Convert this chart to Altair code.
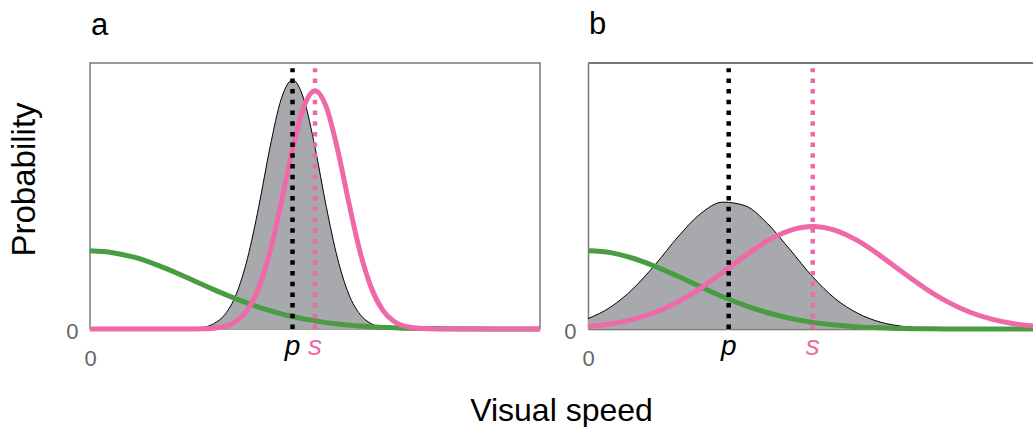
import altair as alt
import pandas as pd

# ---------------- Panel a ----------------
x_a = [0, 0.5, 1, 1.5, 2, 2.5, 2.75, 3, 3.25, 3.5, 3.75, 4, 4.25, 4.5, 4.75,
       5, 5.25, 5.5, 5.75, 6, 6.25, 6.5, 6.75, 7, 7.5, 8, 9, 10]
likelihood_a = [0, 0, 0, 0, 0, 0.006, 0.020, 0.055, 0.131, 0.266, 0.460, 0.683, 0.865, 0.936, 0.865,
                0.683, 0.460, 0.266, 0.131, 0.055, 0.020, 0.006, 0.002, 0, 0, 0, 0, 0]
prior_a = [0.294, 0.287, 0.269, 0.240, 0.205, 0.167, 0.148, 0.130, 0.113, 0.097, 0.082, 0.069, 0.057, 0.047, 0.038,
           0.031, 0.024, 0.019, 0.015, 0.011, 0.0085, 0.006, 0.0047, 0.003, 0.002, 0.001, 0, 0]
percept_a = [0, 0, 0, 0, 0, 0.001, 0.003, 0.010, 0.029, 0.072, 0.155, 0.291, 0.476, 0.676, 0.835,
             0.896, 0.835, 0.676, 0.476, 0.291, 0.155, 0.072, 0.029, 0.010, 0.001, 0, 0, 0]
marks_a = [4.5, 5.0]           # p, s

# ---------------- Panel b ----------------
x_b = [0, 0.5, 1, 1.5, 2, 2.5, 3, 3.5, 4, 4.5, 5, 5.5, 6, 6.5, 7, 7.5, 8, 8.5, 9, 9.5, 9.9]
likelihood_b = [0.039, 0.082, 0.151, 0.243, 0.346, 0.433, 0.477, 0.463, 0.395, 0.297, 0.196,
                0.114, 0.059, 0.026, 0.010, 0.004, 0.001, 0, 0, 0, 0]
prior_b = [0.294, 0.287, 0.266, 0.235, 0.198, 0.159, 0.121, 0.088, 0.061, 0.040, 0.025,
           0.015, 0.008, 0.005, 0.002, 0.001, 0, 0, 0, 0, 0]
percept_b = [0.0096, 0.019, 0.036, 0.063, 0.102, 0.153, 0.213, 0.276, 0.332, 0.371, 0.385,
             0.371, 0.332, 0.276, 0.213, 0.153, 0.102, 0.063, 0.036, 0.019, 0.011]
marks_b = [3.13, 5.0]          # p, s

mark_labels = ["p", "s"]
mark_top = 0.98

GRAY = "#a7a9ac"
GREEN = "#4a9c42"
PINK = "#ef69a8"
FRAME = "#7a7a7a"
FONT = "Liberation Sans"


def panel(xs, like, prior, post, marks, xmax, width, letter, first):
    curves = pd.DataFrame({"x": xs, "likelihood": like, "prior": prior, "percept": post})
    mk = pd.DataFrame({"x": marks, "label": mark_labels, "y0": [0, 0], "y1": [mark_top, mark_top]})

    xscale = alt.Scale(domain=[0, xmax], nice=False, zero=False)
    yscale = alt.Scale(domain=[0, 1], nice=False)

    common_x = dict(values=[0], format="d", ticks=False, grid=False, labelFlush=False,
                    labelFontSize=22, labelColor="#666666", labelFont=FONT,
                    labelBaseline="alphabetic", labelPadding=36)
    common_y = dict(values=[0], format="d", ticks=False, grid=False, labelFlush=False,
                    labelFontSize=22, labelColor="#666666", labelFont=FONT, labelOffset=2)
    if first:
        xaxis = alt.Axis(domain=False,
                         title="Visual speed", titleFontSize=32, titleFontWeight="normal",
                         titleColor="black", titleFont=FONT, titleX=471, titleY=91,
                         titleAlign="center", titleBaseline="alphabetic", **common_x)
        yaxis = alt.Axis(domain=False, labelPadding=12,
                         title="Probability", titleFontSize=33, titleFontWeight="normal",
                         titleColor="black", titleFont=FONT, titleX=-56, titleY=116,
                         titleAlign="center", titleBaseline="alphabetic", titleAngle=270,
                         **common_y)
    else:
        xaxis = alt.Axis(domain=True, domainColor=FRAME, domainWidth=1.5, title=None, **common_x)
        yaxis = alt.Axis(domain=True, domainColor=FRAME, domainWidth=1.5, labelPadding=12,
                         title=None, **common_y)

    base = alt.Chart(curves)
    X = alt.X("x:Q", scale=xscale, axis=xaxis)

    area = base.mark_area(
        color=GRAY, opacity=1, interpolate="monotone",
        line=alt.OverlayMarkDef(color="black", strokeWidth=1)
    ).encode(x=X, y=alt.Y("likelihood:Q", scale=yscale, axis=yaxis))

    green = base.mark_line(color=GREEN, strokeWidth=5, interpolate="monotone").encode(
        x=alt.X("x:Q", scale=xscale), y=alt.Y("prior:Q", scale=yscale))
    pink = base.mark_line(color=PINK, strokeWidth=5, interpolate="monotone").encode(
        x=alt.X("x:Q", scale=xscale), y=alt.Y("percept:Q", scale=yscale))

    color = alt.Color("label:N", scale=alt.Scale(domain=mark_labels, range=["black", PINK]), legend=None)
    rules = alt.Chart(mk).mark_rule(strokeWidth=4.5, strokeDash=[4.5, 6.2]).encode(
        x=alt.X("x:Q", scale=xscale), y=alt.Y("y0:Q", scale=yscale), y2="y1:Q", color=color)
    texts = alt.Chart(mk).mark_text(fontSize=28, fontStyle="italic", font=FONT,
                                    baseline="alphabetic", dy=26).encode(
        x=alt.X("x:Q", scale=xscale), y=alt.datum(0), text="label:N", color=color)

    layers = [area, green, pink, rules, texts]
    if not first:
        top = alt.Chart(curves).mark_rule(color=FRAME, strokeWidth=1.5).encode(
            y=alt.datum(1))
        layers.append(top)

    title = alt.TitleParams(letter, anchor="start", frame="group", fontSize=31,
                            fontWeight="normal", font=FONT, color="black",
                            baseline="alphabetic", offset=-3, dx=1)
    ch = alt.layer(*layers).properties(width=width, height=266, title=title)
    if not first:
        ch = ch.properties(view=alt.ViewBackground(stroke="transparent"))
    return ch


pa = panel(x_a, likelihood_a, prior_a, percept_a, marks_a, 10, 450, "a", True)
pb = panel(x_b, likelihood_b, prior_b, percept_b, marks_b, 9.9, 445, "b", False)

chart = alt.hconcat(pa, pb, spacing=48, bounds="flush").properties(
    padding={"left": 7, "top": 8, "right": -11, "bottom": 0}
).configure_view(stroke=FRAME, strokeWidth=1.5).configure_scale(zero=False)

chart.save("out.html", embed_options={"renderer": "svg", "actions": False})
